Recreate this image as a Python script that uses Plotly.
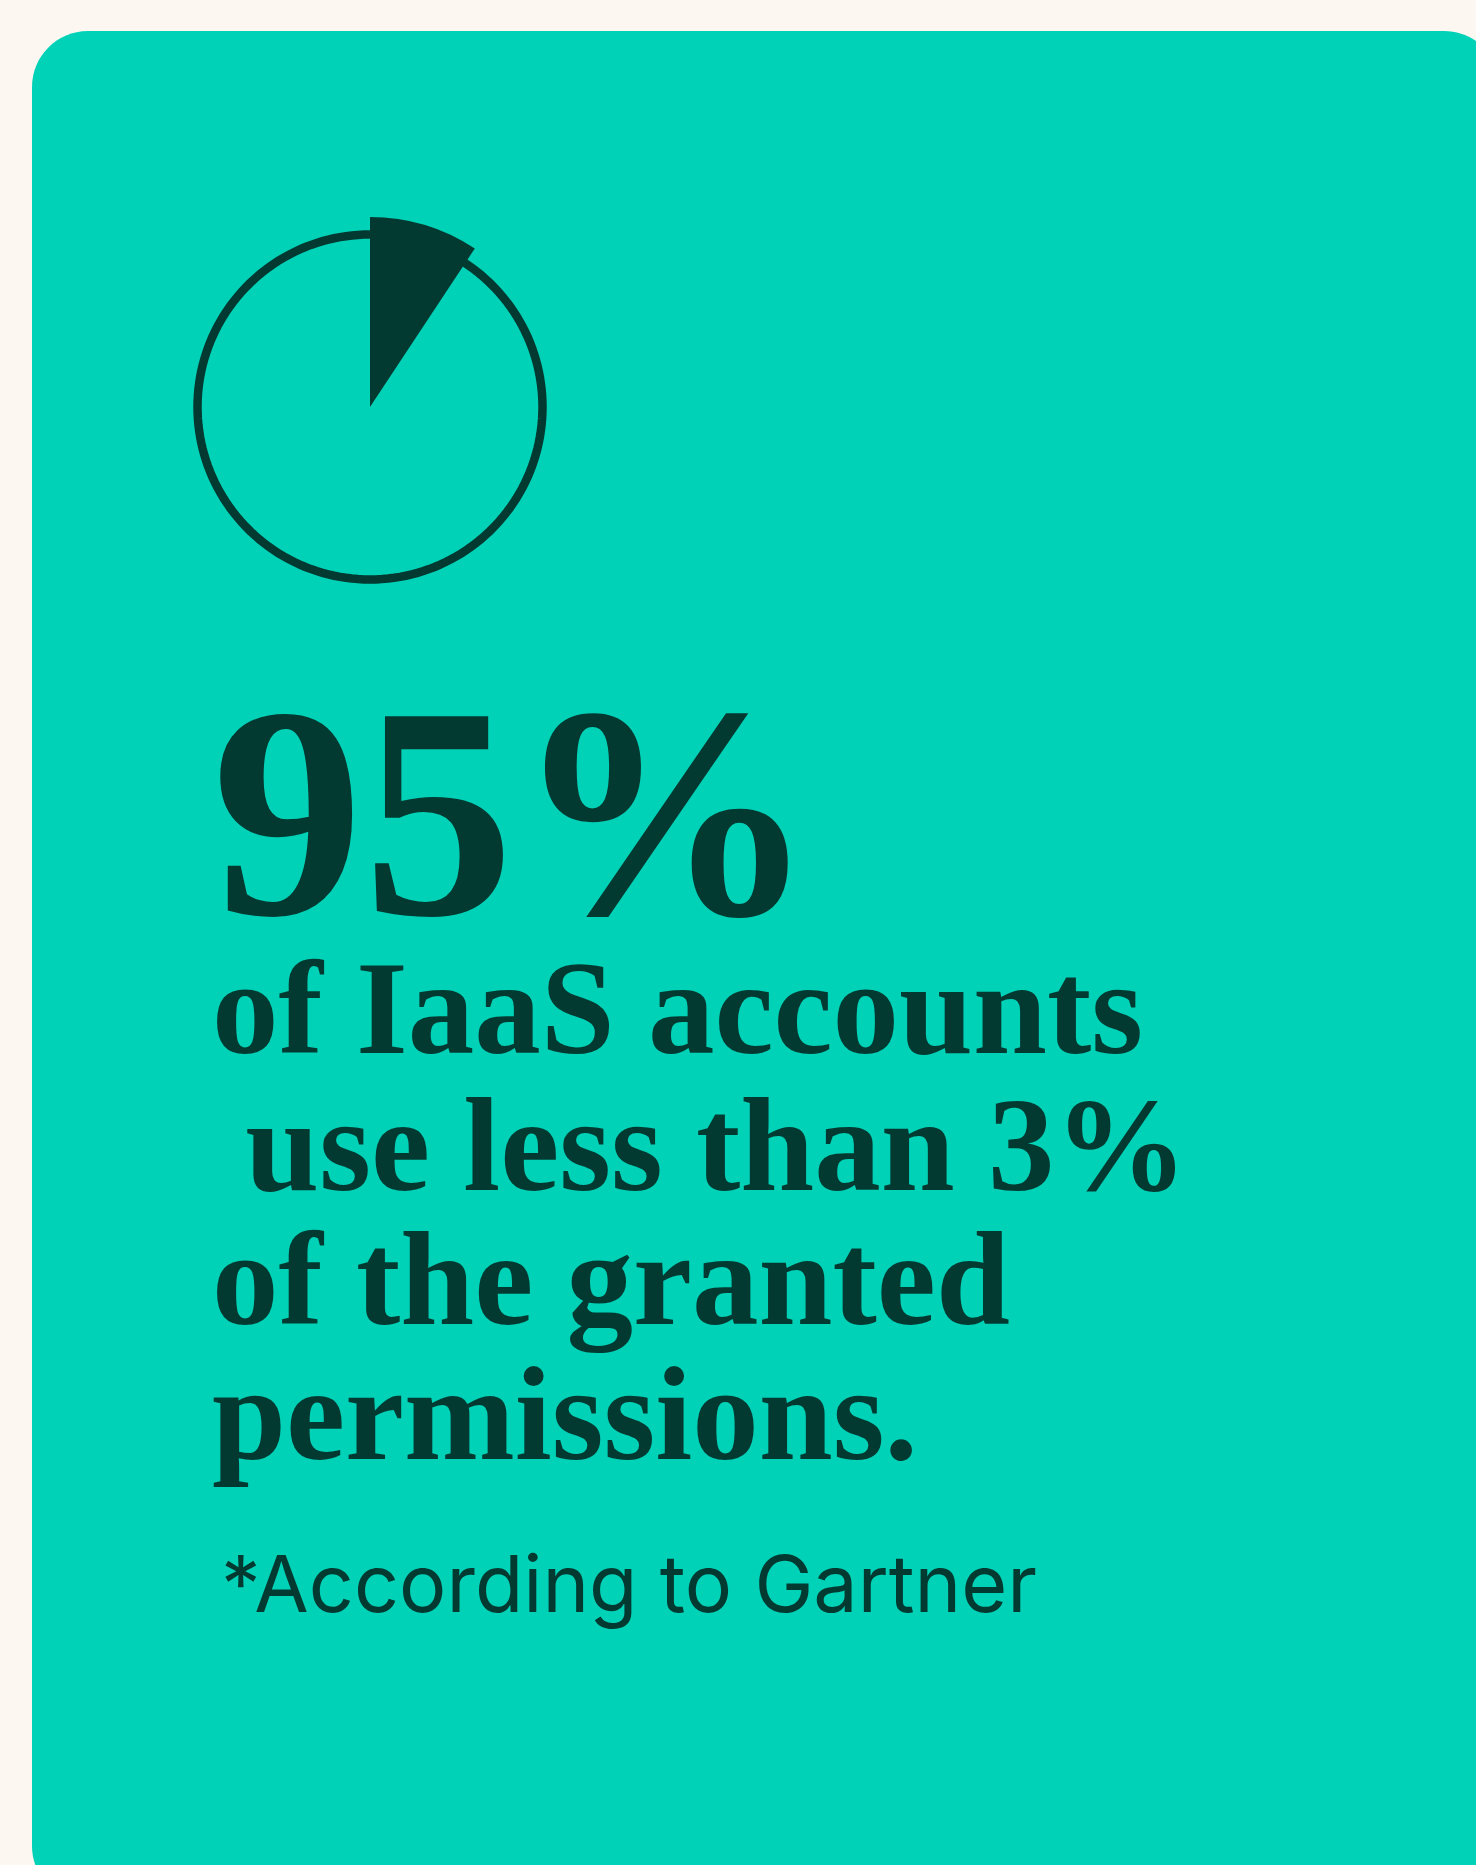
import plotly.graph_objects as go

# ---- data ----
stat_value = "95%"
stat_lines = ["of IaaS accounts", "\u00a0use less than 3%", "of the granted", "permissions."]
footnote = "*According to Gartner"
wedge_share = [9.3]          # highlighted slice of the icon (percent of circle)

W, H = 1476, 1865
BG = "#FCF7F0"
TEAL = "#00D2B8"
DARK = "#023A31"

fig = go.Figure()

# pixel-space axes for shapes/annotations
fig.update_xaxes(range=[0, W], visible=False, fixedrange=True)
fig.update_yaxes(range=[H, 0], visible=False, fixedrange=True)
fig.add_trace(go.Scatter(x=[0, W], y=[0, H], mode="markers", marker=dict(opacity=0),
                         hoverinfo="skip", showlegend=False))

# rounded card
x0, y0, x1, y1, r = 32, 31, 1500, 1902, 56
k = 0.5523 * r
path = (f"M{x0+r},{y0} L{x1-r},{y0} C{x1-r+k},{y0} {x1},{y0+r-k} {x1},{y0+r} "
        f"L{x1},{y1-r} C{x1},{y1-r+k} {x1-r+k},{y1} {x1-r},{y1} "
        f"L{x0+r},{y1} C{x0+r-k},{y1} {x0},{y1-r+k} {x0},{y1-r} "
        f"L{x0},{y0+r} C{x0},{y0+r-k} {x0+r-k},{y0} {x0+r},{y0} Z")
fig.add_shape(type="path", path=path, xref="x", yref="y", fillcolor=TEAL,
              line=dict(width=0), layer="below")

# icon: polar
cx, cy, R = 370, 407, 192
ring_theta = [i * 2 for i in range(181)]
fig.add_trace(go.Scatterpolar(r=[172.5] * len(ring_theta), theta=ring_theta, mode="lines",
                              line=dict(color=DARK, width=8.5), hoverinfo="skip", showlegend=False))
fig.add_trace(go.Barpolar(r=[190], theta=[wedge_share[0] * 360 / 100 / 2],
                          width=[wedge_share[0] * 360 / 100],
                          marker=dict(color=DARK, line=dict(width=0)),
                          hoverinfo="skip", showlegend=False))

fig.update_layout(
    polar=dict(
        domain=dict(x=[(cx - R) / W, (cx + R) / W], y=[1 - (cy + R) / H, 1 - (cy - R) / H]),
        bgcolor="rgba(0,0,0,0)",
        radialaxis=dict(range=[0, R], visible=False),
        angularaxis=dict(visible=False, direction="clockwise", rotation=90),
        bargap=0,
    )
)

# text
fig.add_annotation(x=211, y=812, xref="x", yref="y", text=f"<b>{stat_value}</b>", showarrow=False,
                   xanchor="left", yanchor="middle", borderpad=0,
                   font=dict(family="Liberation Serif", size=302, color=DARK))
mids = [1008, 1145, 1279, 1414]
for line, m in zip(stat_lines, mids):
    fig.add_annotation(x=211, y=m, xref="x", yref="y", text=f"<b>{line}</b>", showarrow=False,
                       xanchor="left", yanchor="middle", borderpad=0,
                       font=dict(family="Liberation Serif", size=133, color=DARK))
fig.add_annotation(x=220, y=1583, xref="x", yref="y", text=footnote, showarrow=False,
                   xanchor="left", yanchor="middle", borderpad=0,
                   font=dict(family="Inter", size=79, color=DARK))

fig.update_layout(width=W, height=H, margin=dict(l=0, r=0, t=0, b=0),
                  paper_bgcolor=BG, plot_bgcolor="rgba(0,0,0,0)", showlegend=False)

fig.write_html(
    "out.html",
    config={"displayModeBar": False},
    post_script=("document.body.style.margin='0';document.body.style.background='#FCF7F0';"
                 "document.documentElement.style.overflow='hidden';"),
)
